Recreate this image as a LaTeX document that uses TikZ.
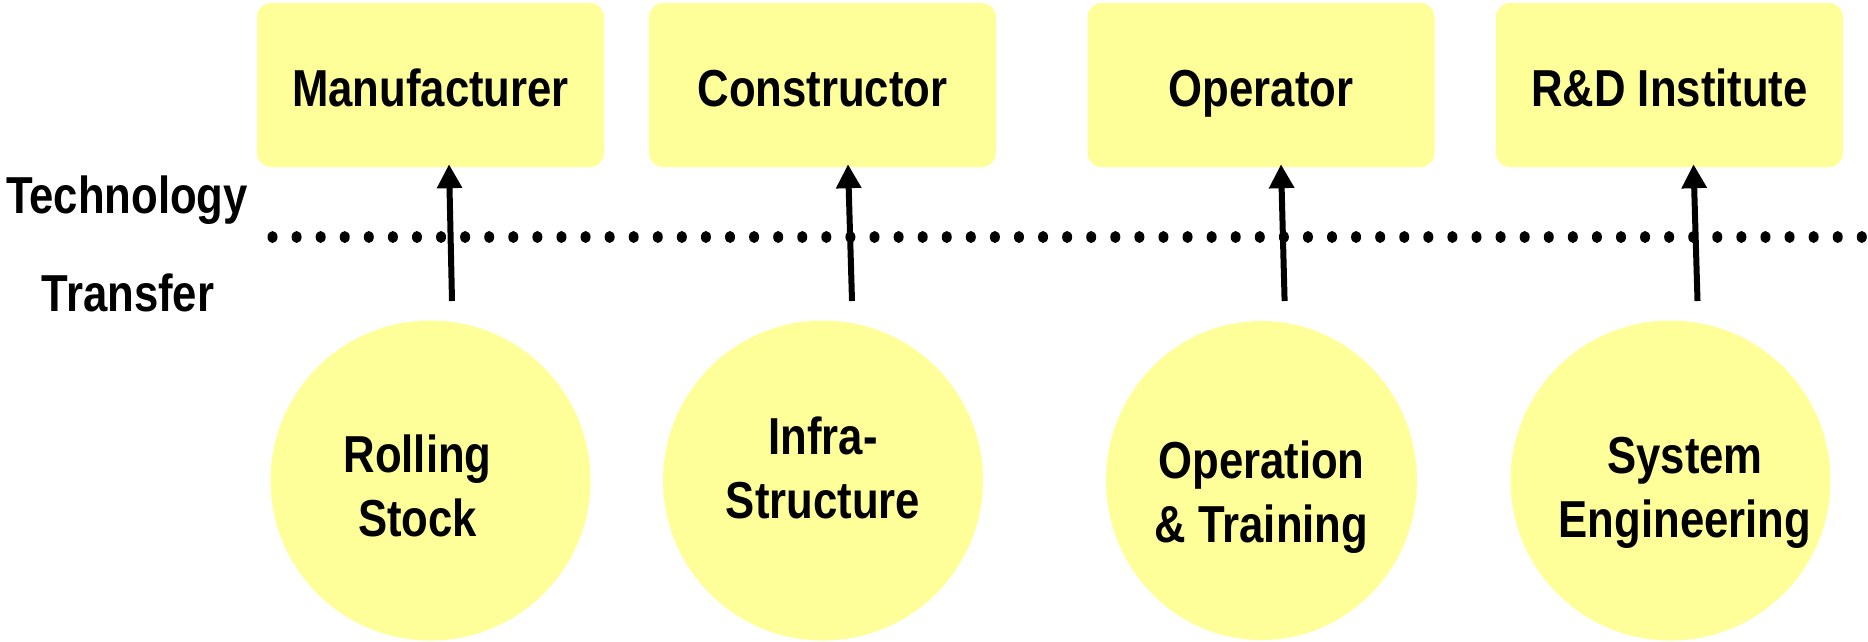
\documentclass[tikz,border=0pt]{standalone}
\usepackage{fontspec}
\newfontfamily\labelfont{Liberation Sans}[FakeStretch=0.84]
\usetikzlibrary{arrows.meta,shapes.geometric}
\definecolor{paleyellow}{HTML}{FFFF99}
\tikzset{
  txt/.style={font=\labelfont\bfseries\fontsize{52}{63.5}\selectfont},
  party/.style={txt, rectangle, rounded corners=14pt, fill=paleyellow,
    minimum width=347pt, minimum height=164pt, inner sep=0pt,
    text height=42pt, text depth=0pt},
  field/.style={circle, fill=paleyellow, minimum size=320pt, inner sep=0pt},
  fieldtext/.style={txt, align=center, anchor=base},
  transfer/.style={line width=6pt, -{Triangle[length=24pt,width=24pt]}},
}
\begin{document}
\begin{tikzpicture}[x=1pt,y=-1pt]
\useasboundingbox (0,0) rectangle (1868,641);

% receiving parties
\node[party] (man) at (430.5,85) {Manufacturer};
\node[party] (con) at (822.5,85) {Constructor};
\node[party] (opr) at (1261,85) {Operator};
\node[party] (rnd) at (1669.5,85) {R\&D Institute};

% technology fields (text anchored at the baseline of the second line)
\node[field] (rs) at (430.5,480.5) {};
\node[field] (is) at (823,480.5) {};
\node[field, ellipse, minimum width=311pt, minimum height=319pt] (ot) at (1261.5,480.5) {};
\node[field] (se) at (1670.5,480.5) {};
\node[fieldtext] (rst) at (417.5,536) {Rolling\\Stock};
\node[fieldtext] (ist) at (823,518) {Infra-\\Structure};
\node[fieldtext] (ott) at (1261.5,542) {Operation\\\& Training};
\node[fieldtext] (set) at (1685,537) {System\\Engineering};

% side labels
\node[txt, anchor=base] (tech) at (127,213) {Technology};
\node[txt, anchor=base] (tran) at (128,311) {Transfer};

% dotted boundary
\foreach \i in {0,...,66}
  \fill ({272.5+24.08*\i},237) ellipse [x radius=5, y radius=6];

% transfer arrows
\coordinate (s1) at (452,301);
\coordinate (s2) at (852,301);
\coordinate (s3) at (1284.6,301);
\coordinate (s4) at (1697.5,301);
\draw[transfer] (s1) -- ([xshift=18.5pt,yshift=3pt]man.south);
\draw[transfer] (s2) -- ([xshift=25.5pt,yshift=3pt]con.south);
\draw[transfer] (s3) -- ([xshift=20pt,yshift=3pt]opr.south);
\draw[transfer] (s4) -- ([xshift=24pt,yshift=3pt]rnd.south);
\end{tikzpicture}
\end{document}
